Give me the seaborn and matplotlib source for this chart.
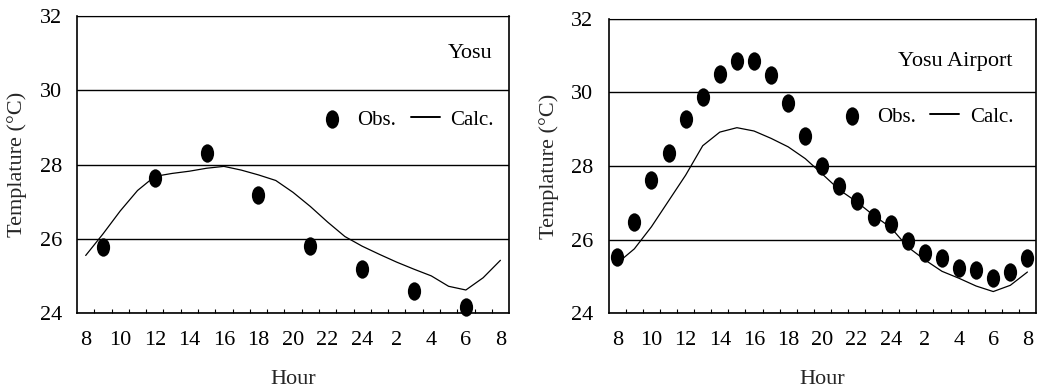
import matplotlib
matplotlib.use("Agg")
import matplotlib.pyplot as plt
from matplotlib.path import Path
from matplotlib.transforms import Affine2D
from matplotlib.ticker import FixedLocator
import pandas as pd
import seaborn as sns

# ---- data -------------------------------------------------------------
# Yosu: observations every 3 hours, model output hourly
yosu_obs_hours = [9, 12, 15, 18, 21, 24, 27, 30]
yosu_obs_temp = [25.77, 27.65, 28.30, 27.18, 25.80, 25.19, 24.59, 24.17]

calc_hours = list(range(8, 33))
yosu_calc_temp = [25.55, 26.13, 26.75, 27.30, 27.68, 27.76, 27.82, 27.90,
                  27.95, 27.85, 27.72, 27.57, 27.25, 26.87, 26.45, 26.06,
                  25.80, 25.58, 25.37, 25.18, 25.00, 24.72, 24.62, 24.95,
                  25.42]

# Yosu Airport: hourly observations and model output
airport_obs_hours = list(range(8, 33))
airport_obs_temp = [25.54, 26.49, 27.62, 28.36, 29.27, 29.87, 30.50, 30.86,
                    30.86, 30.48, 29.72, 28.82, 28.00, 27.47, 27.05, 26.62,
                    26.43, 25.95, 25.63, 25.49, 25.22, 25.18, 24.95, 25.13,
                    25.49]
airport_calc_temp = [25.36, 25.75, 26.35, 27.05, 27.75, 28.55, 28.92, 29.04,
                     28.95, 28.75, 28.52, 28.20, 27.78, 27.35, 27.03, 26.66,
                     26.33, 25.80, 25.45, 25.14, 24.95, 24.74, 24.59, 24.76,
                     25.12]

hour_ticks = [8, 10, 12, 14, 16, 18, 20, 22, 24, 26, 28, 30, 32]
hour_labels = ["8", "10", "12", "14", "16", "18", "20", "22", "24",
               "2", "4", "6", "8"]
hour_minor = [h + 0.5 for h in range(8, 32)]
temp_ticks = [24, 26, 28, 30, 32]

# ---- style ------------------------------------------------------------
sns.set_style("white")
plt.rcParams["font.family"] = ["Liberation Serif", "DejaVu Serif"]
plt.rcParams["axes.edgecolor"] = "black"
plt.rcParams["text.color"] = "black"
plt.rcParams["xtick.color"] = "black"
plt.rcParams["ytick.color"] = "black"

# tall oval marker for observations
oval = Path.unit_circle().transformed(Affine2D().scale(0.72, 1.0))

fig = plt.figure(figsize=(10.37, 3.90), dpi=100)
ax_l = fig.add_axes([0.0743, 0.1974, 0.4166, 0.7615])
ax_r = fig.add_axes([0.5870, 0.1967, 0.4120, 0.7554])


def draw_panel(ax, obs_h, obs_t, calc_t, station, legend_anchor, title_xy):
    obs = pd.DataFrame({"hour": obs_h, "temp": obs_t})
    calc = pd.DataFrame({"hour": calc_hours, "temp": calc_t})

    sns.lineplot(data=calc, x="hour", y="temp", ax=ax, color="black",
                 linewidth=0.9, label="Calc.", zorder=3)
    sns.scatterplot(data=obs, x="hour", y="temp", ax=ax, color="black",
                    marker=oval, s=175, linewidth=0, label="Obs.",
                    zorder=4, clip_on=False)

    ax.set_xlim(7.5, 32.5)
    ax.set_ylim(24, 32)

    ax.xaxis.set_major_locator(FixedLocator(hour_ticks))
    ax.set_xticklabels(hour_labels)
    ax.xaxis.set_minor_locator(FixedLocator(hour_minor))
    ax.yaxis.set_major_locator(FixedLocator(temp_ticks))

    ax.tick_params(axis="x", which="major", length=0, pad=13, labelsize=16)
    ax.tick_params(axis="x", which="minor", direction="in", length=3,
                   width=0.8, bottom=True)
    ax.tick_params(axis="y", which="major", length=0, pad=11, labelsize=16)

    ax.yaxis.grid(True, color="black", linewidth=1.0)
    ax.xaxis.grid(False)
    ax.set_axisbelow(True)

    for side, sp in ax.spines.items():
        sp.set_visible(True)
        sp.set_color("black")
        sp.set_linewidth(0.8 if side == "top" else 1.2)

    ax.set_xlabel("Hour", fontsize=16, labelpad=14)
    ax.set_ylabel("Templature (°C)", fontsize=16, labelpad=9)

    ax.text(title_xy[0], title_xy[1], station, transform=ax.transAxes,
            ha="right", va="center", fontsize=16)

    handles, labels = ax.get_legend_handles_labels()
    order = [labels.index("Obs."), labels.index("Calc.")]
    leg = ax.legend([handles[i] for i in order], [labels[i] for i in order],
                    ncol=2, frameon=False, loc="center right",
                    bbox_to_anchor=legend_anchor, fontsize=15,
                    borderpad=0, borderaxespad=0, handlelength=1.4,
                    handletextpad=0.5, columnspacing=0.7, markerscale=1.0)
    for line in leg.get_lines():
        line.set_linewidth(1.4)


draw_panel(ax_l, yosu_obs_hours, yosu_obs_temp, yosu_calc_temp,
           "Yosu", (0.965, 0.65), (0.962, 0.875))
draw_panel(ax_r, airport_obs_hours, airport_obs_temp, airport_calc_temp,
           "Yosu Airport", (0.947, 0.667), (0.944, 0.854))

fig.savefig("out.png", dpi=100)
